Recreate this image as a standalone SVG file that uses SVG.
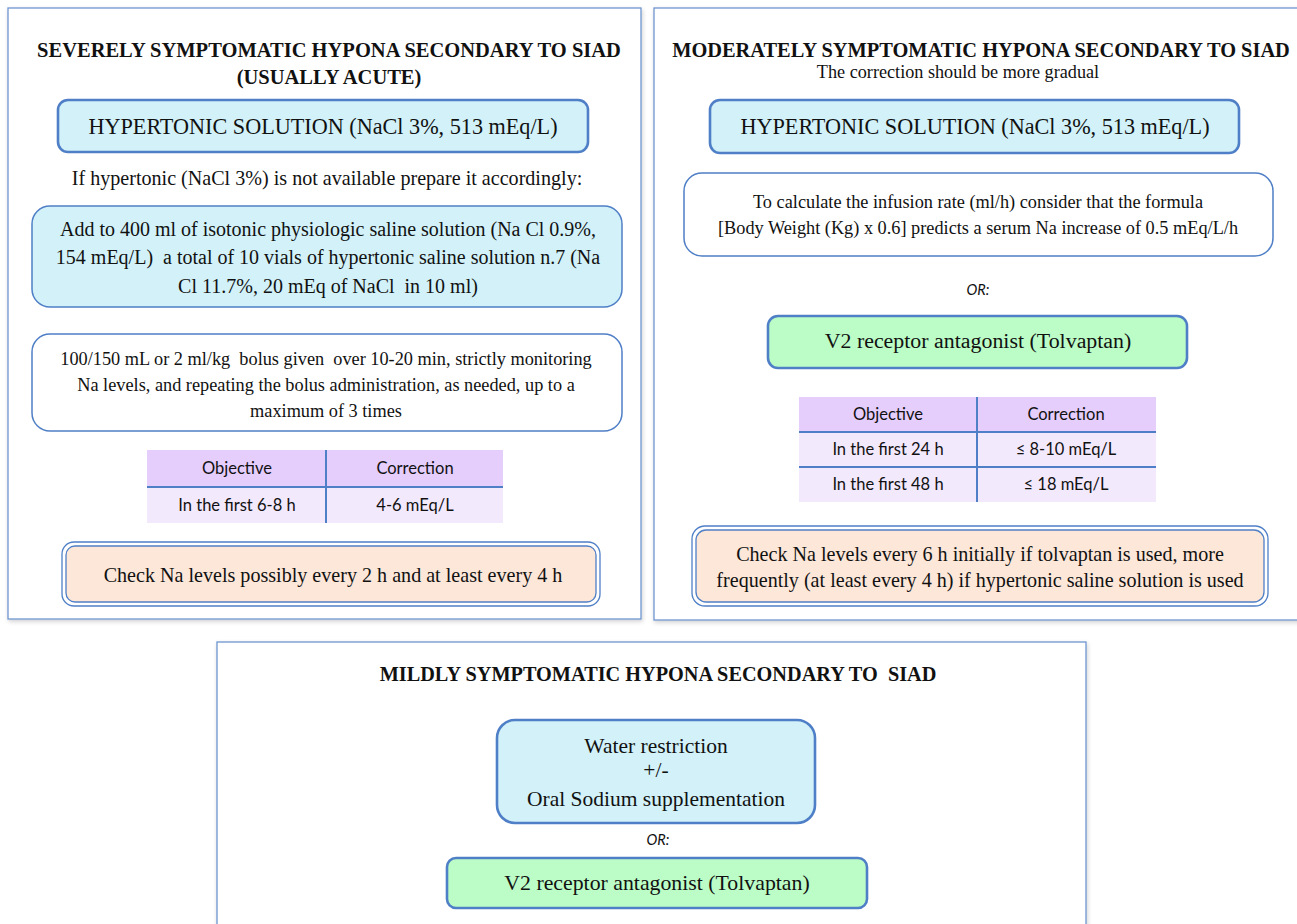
<svg xmlns="http://www.w3.org/2000/svg" width="1297" height="924" viewBox="0 0 1297 924">
<defs>
<filter id="sh" x="-5%" y="-5%" width="110%" height="110%">
<feDropShadow dx="1" dy="2" stdDeviation="2" flood-color="#000" flood-opacity="0.18"/>
</filter>
<style>
.panel{fill:#fff;stroke:#6f95cf;stroke-width:1.3;filter:url(#sh)}
.bluebox{fill:#d2f1f9;stroke:#4f7fc6;stroke-width:2.6}
.bluebox2{fill:#d2f1f9;stroke:#4f7fc6;stroke-width:1.5}
.whitebox{fill:#fff;stroke:#4f7fc6;stroke-width:1.5}
.greenbox{fill:#bcfdc7;stroke:#4f7fc6;stroke-width:2.6}
.peach{fill:#fce7d9;stroke:#4f7fc6;stroke-width:1.3}
.dbl{fill:none;stroke:#4f7fc6;stroke-width:1.3}
.thead{fill:#e5cdfc}
.trow{fill:#f3e9fd}
.tline{stroke:#4f7fc6;stroke-width:2}
text{white-space:pre}
.t{font-family:"Liberation Serif","Times New Roman",serif;fill:#111;text-anchor:middle}
.tb{font-family:"Liberation Serif","Times New Roman",serif;font-weight:bold;fill:#111;text-anchor:middle}
.c{font-family:Lato,"Open Sans",sans-serif;fill:#111;text-anchor:middle;font-size:16.5px}
.ci{font-family:Lato,"Open Sans",sans-serif;fill:#111;text-anchor:middle;font-size:14.5px;font-style:italic}
</style>
</defs>

<g id="panel-severe">
<rect class="panel" x="8" y="8" width="633" height="611"/>
<text class="tb" x="329" y="57" font-size="20.5">SEVERELY SYMPTOMATIC HYPONA SECONDARY TO SIAD</text>
<text class="tb" x="329" y="84" font-size="20.5">(USUALLY ACUTE)</text>
</g>

<g id="severe-hypertonic">
<rect class="bluebox" x="58" y="100" width="530" height="52" rx="10"/>
<text class="t" x="323" y="134" font-size="22.2">HYPERTONIC SOLUTION (NaCl 3%, 513 mEq/L)</text>
</g>

<g id="severe-note">
<text class="t" x="327" y="185" font-size="20.1">If hypertonic (NaCl 3%) is not available prepare it accordingly:</text>
</g>

<g id="severe-prepare">
<rect class="bluebox2" x="32" y="206" width="590" height="101" rx="18"/>
<text class="t" x="328" y="236" font-size="20" xml:space="preserve">Add to 400 ml of isotonic physiologic saline solution (Na Cl 0.9%,</text>
<text class="t" x="328" y="264" font-size="20" xml:space="preserve">154 mEq/L)  a total of 10 vials of hypertonic saline solution n.7 (Na</text>
<text class="t" x="328" y="293" font-size="20" xml:space="preserve">Cl 11.7%, 20 mEq of NaCl  in 10 ml)</text>
</g>

<g id="severe-bolus">
<rect class="whitebox" x="32" y="334" width="590" height="97" rx="18"/>
<text class="t" x="326" y="365" font-size="18.3" xml:space="preserve">100/150 mL or 2 ml/kg  bolus given  over 10-20 min, strictly monitoring</text>
<text class="t" x="326" y="391" font-size="18.3">Na levels, and repeating the bolus administration, as needed, up to a</text>
<text class="t" x="326" y="417" font-size="18.3">maximum of 3 times</text>
</g>

<g id="severe-table">
<rect class="thead" x="147" y="450" width="356" height="37"/>
<rect class="trow" x="147" y="487" width="356" height="36"/>
<line class="tline" x1="147" y1="487" x2="503" y2="487"/>
<line class="tline" x1="326" y1="450" x2="326" y2="523"/>
<text class="c" x="237" y="474">Objective</text>
<text class="c" x="415" y="474">Correction</text>
<text class="c" x="237" y="511">In the first 6-8 h</text>
<text class="c" x="415" y="511">4-6 mEq/L</text>
</g>

<g id="severe-check">
<rect class="peach" x="66" y="546" width="530" height="56" rx="9"/>
<rect class="dbl" x="62" y="542" width="538" height="64" rx="12"/>
<text class="t" x="333" y="582" font-size="20.1">Check Na levels possibly every 2 h and at least every 4 h</text>
</g>

<g id="panel-moderate">
<rect class="panel" x="654" y="8" width="650" height="612"/>
<text class="tb" x="981" y="57" font-size="20.4">MODERATELY SYMPTOMATIC HYPONA SECONDARY TO SIAD</text>
<text class="t" x="958" y="78" font-size="18.2">The correction should be more gradual</text>
</g>

<g id="moderate-hypertonic">
<rect class="bluebox" x="710" y="100" width="529" height="53" rx="10"/>
<text class="t" x="975" y="134" font-size="22.2">HYPERTONIC SOLUTION (NaCl 3%, 513 mEq/L)</text>
</g>

<g id="moderate-rate">
<rect class="whitebox" x="684" y="173" width="589" height="83" rx="18"/>
<text class="t" x="978" y="208" font-size="18.3">To calculate the infusion rate (ml/h) consider that the formula</text>
<text class="t" x="978" y="234" font-size="18.3">[Body Weight (Kg) x 0.6] predicts a serum Na increase of 0.5 mEq/L/h</text>
</g>

<g id="moderate-or">
<text class="ci" x="978" y="295">OR:</text>
</g>

<g id="moderate-tolvaptan">
<rect class="greenbox" x="768" y="316" width="419" height="52" rx="10"/>
<text class="t" x="978" y="348" font-size="21.9">V2 receptor antagonist (Tolvaptan)</text>
</g>

<g id="moderate-table">
<rect class="thead" x="799" y="397" width="357" height="35"/>
<rect class="trow" x="799" y="432" width="357" height="70"/>
<line class="tline" x1="799" y1="432" x2="1156" y2="432"/>
<line class="tline" x1="799" y1="467" x2="1156" y2="467"/>
<line class="tline" x1="977" y1="397" x2="977" y2="502"/>
<text class="c" x="888" y="420">Objective</text>
<text class="c" x="1066" y="420">Correction</text>
<text class="c" x="888" y="455">In the first 24 h</text>
<text class="c" x="1066" y="455">≤ 8-10 mEq/L</text>
<text class="c" x="888" y="490">In the first 48 h</text>
<text class="c" x="1066" y="490">≤ 18 mEq/L</text>
</g>

<g id="moderate-check">
<rect class="peach" x="696" y="530" width="568" height="72" rx="10"/>
<rect class="dbl" x="692" y="526" width="576" height="80" rx="13"/>
<text class="t" x="980" y="561" font-size="20.1">Check Na levels every 6 h initially if tolvaptan is used, more</text>
<text class="t" x="980" y="587" font-size="20.1">frequently (at least every 4 h) if hypertonic saline solution is used</text>
</g>

<g id="panel-mild">
<rect class="panel" x="217" y="642" width="869" height="300"/>
<text class="tb" x="658" y="681" font-size="20.3" xml:space="preserve">MILDLY SYMPTOMATIC HYPONA SECONDARY TO  SIAD</text>
</g>

<g id="mild-water">
<rect class="bluebox" x="497" y="720" width="318" height="103" rx="18"/>
<text class="t" x="656" y="753" font-size="21.5">Water restriction</text>
<text class="t" x="656" y="777" font-size="21.5">+/-</text>
<text class="t" x="656" y="806" font-size="21.5">Oral Sodium supplementation</text>
</g>

<g id="mild-or">
<text class="ci" x="658" y="845">OR:</text>
</g>

<g id="mild-tolvaptan">
<rect class="greenbox" x="447" y="858" width="420" height="50" rx="9"/>
<text class="t" x="657" y="890" font-size="21.8">V2 receptor antagonist (Tolvaptan)</text>
</g>

<g id="connectors"></g>
</svg>
